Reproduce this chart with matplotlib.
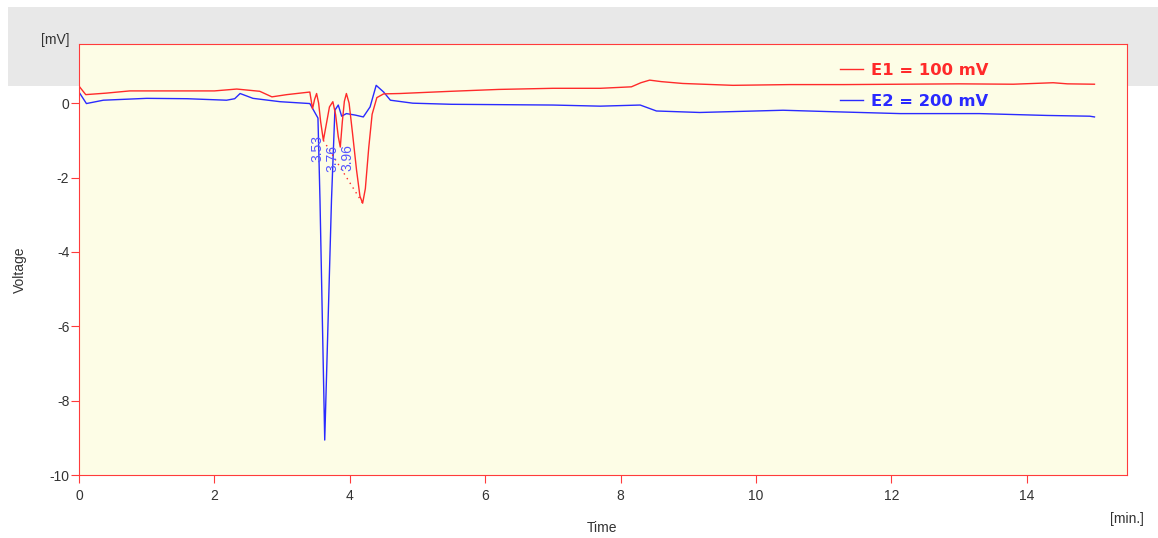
import matplotlib.pyplot as plt
from matplotlib.patches import Rectangle

plt.rcParams['font.family'] = ['Liberation Sans', 'DejaVu Sans']
plt.rcParams['axes.unicode_minus'] = False

# E1 = 100 mV (red)
t_red = [0, 0.1, 0.4, 0.75, 1.3, 2.0, 2.33, 2.67, 2.85, 3.07, 3.41, 3.45, 3.48, 3.51,
         3.54, 3.57, 3.61, 3.65, 3.7, 3.75, 3.79, 3.83, 3.86, 3.89, 3.92, 3.95, 3.99,
         4.04, 4.1, 4.15, 4.19, 4.23, 4.28, 4.33, 4.4, 4.5, 4.74, 5.5, 6.2, 7.0, 7.7,
         8.16, 8.3, 8.43, 8.6, 8.92, 9.66, 10.5, 11.3, 12.13, 13.0, 13.8, 14.39, 14.6, 15.0]
v_red = [0.46, 0.23, 0.27, 0.33, 0.33, 0.33, 0.38, 0.32, 0.17, 0.23, 0.30, -0.15, 0.1, 0.26,
         0.0, -0.5, -1.0, -0.6, -0.1, 0.04, -0.3, -0.9, -1.18, -0.5, 0.05, 0.26, 0.0,
         -0.8, -1.8, -2.5, -2.69, -2.3, -1.2, -0.3, 0.15, 0.25, 0.26, 0.32, 0.37, 0.40, 0.40,
         0.44, 0.55, 0.62, 0.58, 0.53, 0.48, 0.50, 0.50, 0.51, 0.52, 0.51, 0.55, 0.52, 0.51]

# E2 = 200 mV (blue)
t_blue = [0, 0.11, 0.36, 1.0, 1.6, 2.18, 2.3, 2.38, 2.57, 2.97, 3.41, 3.49, 3.53, 3.56,
          3.63, 3.73, 3.78, 3.83, 3.88, 3.95, 4.08, 4.2, 4.3, 4.39, 4.5, 4.6, 4.93, 5.5,
          7.0, 7.7, 8.29, 8.53, 9.17, 10.4, 11.14, 12.13, 13.3, 14.3, 14.93, 15.0]
v_blue = [0.3, -0.01, 0.08, 0.13, 0.12, 0.08, 0.12, 0.26, 0.13, 0.04, -0.01, -0.27, -0.4, -2.6,
          -9.06, -2.6, -0.19, -0.05, -0.35, -0.28, -0.32, -0.37, -0.1, 0.48, 0.3, 0.08, 0.0, -0.03,
          -0.05, -0.08, -0.05, -0.21, -0.25, -0.19, -0.23, -0.28, -0.28, -0.33, -0.35, -0.37]

# peak labels (retention times)
peak_t = [3.52, 3.75, 3.96]
peak_v = [-1.21, -1.48, -1.45]
peak_lbl = ['3.53', '3.76', '3.96']

# baseline under the red peak
base_t = [3.61, 4.19]
base_v = [-1.0, -2.69]

red = '#ff2a2a'
blue = '#2a2aff'

fig = plt.figure(figsize=(11.58, 5.38), dpi=100)
fig.patches.append(Rectangle((0.007, 0.84), 0.993, 0.147, transform=fig.transFigure,
                             facecolor='#e8e8e8', edgecolor='none', zorder=-5))
ax = fig.add_axes([0.0682, 0.1171, 0.905, 0.801])
ax.set_zorder(3)
ax.set_facecolor('#fdfde6')

ax.plot(t_blue, v_blue, color=blue, lw=1.0, label='E2 = 200 mV')
ax.plot(t_red, v_red, color=red, lw=1.0, label='E1 = 100 mV')
ax.plot(base_t, base_v, color=red, lw=1.0, ls=(0, (1, 3)))
for x, y, s in zip(peak_t, peak_v, peak_lbl):
    ax.text(x, y, s, rotation=90, color='#5555ff', fontsize=10, ha='center', va='center')

ax.set_xlim(0, 15.48)
ax.set_ylim(-10, 1.59)
ax.set_xticks(range(0, 15, 2))
ax.set_yticks(range(-10, 1, 2))
for sp in ax.spines.values():
    sp.set_color('#ff3b3b')
ax.tick_params(colors='#ff3b3b', labelcolor='#333333', length=6, labelsize=10)
ax.tick_params(axis='y', pad=1)
ax.tick_params(axis='x', pad=4)

h, l = ax.get_legend_handles_labels()
leg = ax.legend(h[::-1], l[::-1], loc='upper left', bbox_to_anchor=(0.726, 0.956),
                frameon=False, borderpad=0, borderaxespad=0, handlelength=1.4,
                handletextpad=0.5, labelspacing=0.95, labelcolor='linecolor',
                prop={'family': 'DejaVu Sans', 'weight': 'bold', 'size': 11.8})

fig.text(20 / 1158, 1 - 270 / 538, 'Voltage', rotation=90, ha='center', va='center',
         fontsize=10, color='#333333')
fig.text(602 / 1158, 1 - 528 / 538, 'Time', ha='center', va='center',
         fontsize=10, color='#333333')
fig.text(55 / 1158, 1 - 40 / 538, '[mV]', ha='center', va='center',
         fontsize=10, color='#333333')
fig.text(1127 / 1158, 1 - 519 / 538, '[min.]', ha='center', va='center',
         fontsize=10, color='#333333')

fig.savefig('out.png', dpi=100)
